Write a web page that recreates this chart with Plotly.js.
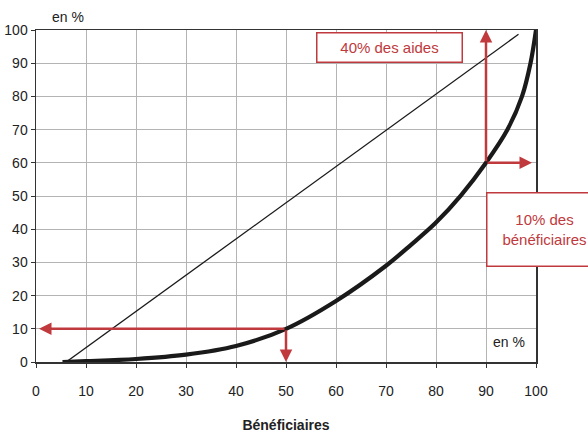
<!DOCTYPE html>
<html>
<head>
<meta charset="utf-8">
<script src="https://cdn.plot.ly/plotly-3.0.1.min.js"></script>
<style>html,body{margin:0;padding:0;background:#fff;}</style>
</head>
<body>
<div id="chart" style="width:588px;height:434px;"></div>
<script>
// Lorenz curve (cumulative % of beneficiaries vs cumulative % of aid)
const curveX = [5.3, 10, 20, 30, 40, 50, 60, 70, 75, 80, 85, 90, 94.3, 97.2, 98.9, 100];
const curveY = [0, 0.25, 0.9, 2.2, 4.8, 10, 18.4, 29, 35.3, 42, 50.2, 60, 70, 80, 90, 100];
// reference (equality) line
const diagX = [5.3, 96.5];
const diagY = [-0.8, 98.7];
// red arrows: tail -> head
const arrowTailX = [50, 50, 90, 90];
const arrowTailY = [10, 10, 60, 60];
const arrowHeadX = [0.6, 50, 90, 99.2];
const arrowHeadY = [10, 0, 100, 60];
const tickVals = [0, 10, 20, 30, 40, 50, 60, 70, 80, 90, 100];
const boxTexts = ["40% des aides", "10% des<br>bénéficiaires"];
const xTitle = "Bénéficiaires";
const unitText = "en %";

const RED = "#c0393c";
const SANS = "'Liberation Sans', Arial, sans-serif";

const traces = [
  {x: diagX, y: diagY, mode: "lines", line: {color: "#1a1a1a", width: 1.3}, hoverinfo: "skip"},
  {x: curveX, y: curveY, mode: "lines", line: {color: "#1a1a1a", width: 4.2, shape: "spline", smoothing: 1}, hoverinfo: "skip"}
];

const annotations = [];
for (let i = 0; i < arrowTailX.length; i++) {
  annotations.push({
    x: arrowHeadX[i], y: arrowHeadY[i], ax: arrowTailX[i], ay: arrowTailY[i],
    xref: "x", yref: "y", axref: "x", ayref: "y",
    text: "", showarrow: true, arrowhead: 2, arrowsize: 1, arrowwidth: 2.5,
    arrowcolor: RED, standoff: 0
  });
}
annotations.push({
  x: 70.7, y: 94.6, xref: "x", yref: "y", text: boxTexts[0], showarrow: false,
  font: {family: SANS, size: 15, color: RED},
  bgcolor: "#ffffff", bordercolor: RED, borderwidth: 1.5, borderpad: 2,
  width: 140, height: 24
});
annotations.push({
  x: 90, y: 39.8, xref: "x", yref: "y", xanchor: "left", text: boxTexts[1], showarrow: false,
  font: {family: SANS, size: 15, color: RED},
  bgcolor: "#ffffff", bordercolor: RED, borderwidth: 1.5, borderpad: 2,
  width: 110, height: 68
});
annotations.push({
  x: 0.064, y: 1.04, xref: "paper", yref: "paper", xanchor: "center", yanchor: "middle",
  text: unitText, showarrow: false,
  font: {family: SANS, size: 14, color: "#222"}
});
annotations.push({
  x: 94.6, y: 6.0, xref: "x", yref: "y", text: unitText, showarrow: false,
  font: {family: SANS, size: 14, color: "#222"}
});

const layout = {
  width: 588, height: 434,
  margin: {l: 36, r: 52, t: 30, b: 72},
  paper_bgcolor: "#ffffff", plot_bgcolor: "#ffffff",
  showlegend: false,
  font: {family: SANS, size: 14, color: "#222"},
  xaxis: {
    range: [0, 100], tickvals: tickVals, ticks: "outside", ticklen: 4, tickcolor: "#333",
    ticklabelstandoff: 12,
    showgrid: true, gridcolor: "#b4b4b4", gridwidth: 1,
    showline: true, linecolor: "#333", linewidth: 1.5, mirror: true,
    zeroline: false,
    tickfont: {family: SANS, size: 14, color: "#222"},
    title: {text: "<b>" + xTitle + "</b>", font: {family: SANS, size: 14, color: "#222"}, standoff: 22}
  },
  yaxis: {
    range: [0, 100], tickvals: tickVals, ticks: "outside", ticklen: 4, tickcolor: "#333",
    showgrid: true, gridcolor: "#b4b4b4", gridwidth: 1,
    showline: true, linecolor: "#333", linewidth: 1.5, mirror: true,
    zeroline: false,
    tickfont: {family: SANS, size: 14, color: "#222"}
  },
  annotations: annotations
};

Plotly.newPlot("chart", traces, layout, {staticPlot: true, displayModeBar: false});
</script>
</body>
</html>
